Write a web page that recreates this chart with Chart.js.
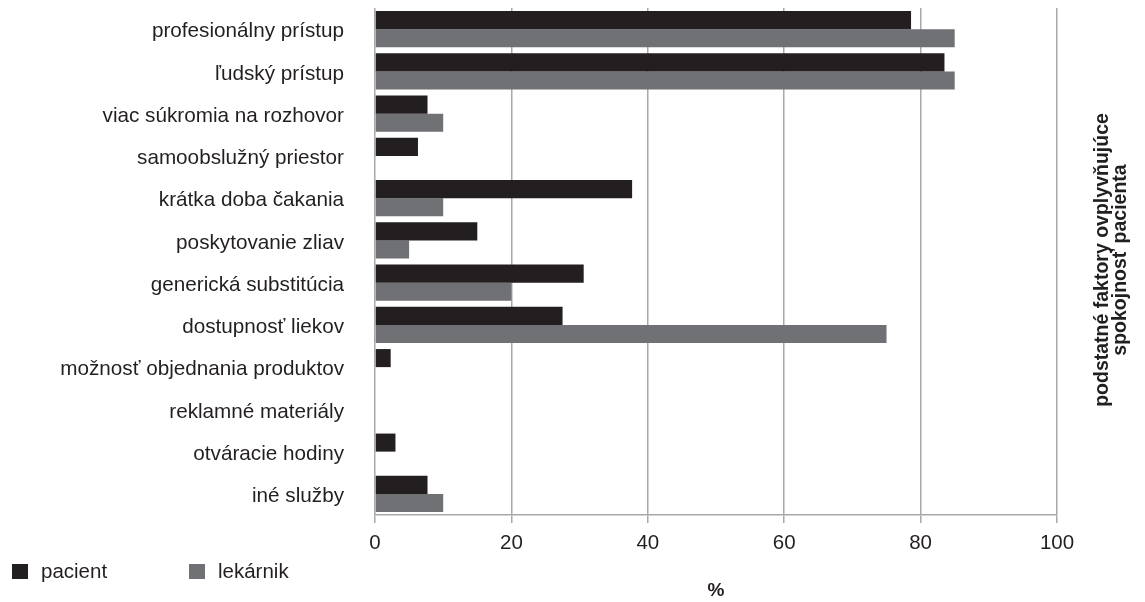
<!DOCTYPE html>
<html>
<head>
<meta charset="utf-8">
<script src="https://cdn.jsdelivr.net/npm/chart.js@4"></script>
<style>
  html, body { margin: 0; padding: 0; background: #fff; }
  #wrap { width: 1145px; height: 602px; position: relative; }
</style>
</head>
<body>
<div id="wrap"><canvas id="factorChart"></canvas></div>
<script>
// categories (top to bottom)
const factors = [
  'profesionálny prístup',
  'ľudský prístup',
  'viac súkromia na rozhovor',
  'samoobslužný priestor',
  'krátka doba čakania',
  'poskytovanie zliav',
  'generická substitúcia',
  'dostupnosť liekov',
  'možnosť objednania produktov',
  'reklamné materiály',
  'otváracie hodiny',
  'iné služby'
];

// % answers
const pacientValues = [78.6, 83.5, 7.7, 6.3, 37.7, 15, 30.6, 27.5, 2.3, 0, 3, 7.7];
const lekarnikValues = [85, 85, 10, 0, 10, 5, 20, 75, 0, 0, 0, 10];

const xTicks = [0, 20, 40, 60, 80, 100];
const sideTitle = ['podstatné faktory ovplyvňujúce', 'spokojnosť pacienta'];

const fontFamily = '"Liberation Sans", Arial, Helvetica, sans-serif';
const textColor = '#231f20';
const gridColor = '#a8a8aa';

// legend under the chart, left side
const bottomLegend = {
  id: 'bottomLegend',
  afterDraw(chart) {
    const ctx = chart.ctx;
    const spots = [{ box: 12, text: 41 }, { box: 189, text: 218 }];
    ctx.save();
    ctx.font = '20.5px ' + fontFamily;
    ctx.textBaseline = 'middle';
    ctx.textAlign = 'left';
    chart.data.datasets.forEach((ds, i) => {
      ctx.fillStyle = ds.backgroundColor;
      ctx.fillRect(spots[i].box, 564, 16, 15);
      ctx.fillStyle = textColor;
      ctx.fillText(ds.label, spots[i].text, 572);
    });
    ctx.restore();
  }
};

// rotated title on the right side
const sideTitlePlugin = {
  id: 'sideTitle',
  afterDraw(chart) {
    const ctx = chart.ctx;
    ctx.save();
    ctx.font = 'bold 19.5px ' + fontFamily;
    ctx.fillStyle = textColor;
    ctx.textAlign = 'center';
    ctx.textBaseline = 'middle';
    ctx.translate(1112, 260);
    ctx.rotate(-Math.PI / 2);
    ctx.fillText(sideTitle[0], 0, -9);
    ctx.fillText(sideTitle[1], 0, 9);
    ctx.restore();
  }
};

new Chart(document.getElementById('factorChart'), {
  type: 'bar',
  data: {
    labels: factors,
    datasets: [
      { label: 'pacient', data: pacientValues, backgroundColor: '#231f20' },
      { label: 'lekárnik', data: lekarnikValues, backgroundColor: '#707174' }
    ]
  },
  options: {
    indexAxis: 'y',
    responsive: true,
    maintainAspectRatio: false,
    animation: false,
    datasets: { bar: { barPercentage: 1.0, categoryPercentage: 0.855 } },
    layout: { padding: { top: 8, right: 88, left: 0, bottom: 0 } },
    plugins: {
      legend: { display: false },
      tooltip: { enabled: false }
    },
    scales: {
      x: {
        min: 0,
        max: 100,
        afterFit: s => { s.height = 87; },
        afterBuildTicks: s => { s.ticks = xTicks.map(v => ({ value: v })); },
        grid: { color: gridColor, lineWidth: 1.5, drawTicks: true, tickLength: 8, tickColor: gridColor },
        border: { color: gridColor, width: 1.5 },
        ticks: { color: textColor, font: { family: fontFamily, size: 20.5 }, padding: 8 },
        title: {
          display: true,
          text: '%',
          color: textColor,
          font: { family: fontFamily, size: 19, weight: 'bold' },
          padding: { top: 0, bottom: 0 }
        }
      },
      y: {
        afterFit: s => { s.width = 375; },
        // invisible tick marks keep the labels away from the axis
        grid: { color: 'transparent', drawTicks: true, tickLength: 31, tickColor: 'transparent' },
        border: { display: false },
        ticks: {
          color: textColor,
          font: { family: fontFamily, size: 20.7, lineHeight: 0.75 },
          padding: 0,
          labelOffset: 2.5
        }
      }
    }
  },
  plugins: [bottomLegend, sideTitlePlugin]
});
</script>
</body>
</html>
